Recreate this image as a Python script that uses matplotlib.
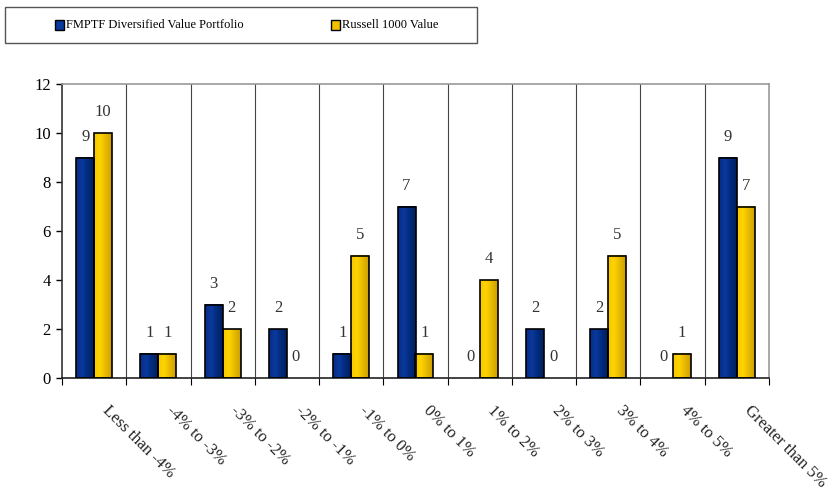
import matplotlib
matplotlib.use("Agg")
import matplotlib.pyplot as plt
import numpy as np
from matplotlib.patches import Rectangle
from matplotlib.colors import LinearSegmentedColormap

categories = ["Less than -4%", "-4% to -3%", "-3% to -2%", "-2% to -1%", "-1% to 0%",
              "0% to 1%", "1% to 2%", "2% to 3%", "3% to 4%", "4% to 5%", "Greater than 5%"]
fmptf = [9, 1, 3, 2, 1, 7, 0, 2, 2, 0, 9]
russell = [10, 1, 2, 0, 5, 1, 4, 0, 5, 1, 7]
series_names = ["FMPTF Diversified Value Portfolio", "Russell 1000 Value"]
yticks = [0, 2, 4, 6, 8, 10, 12]

plt.rcParams['font.family'] = ['Liberation Serif', 'DejaVu Serif']

fig = plt.figure(figsize=(8.34, 4.97), dpi=100)
ax = fig.add_axes([62/834, 1-378/497, (769-62)/834, (378-84)/497])

n = len(categories)
x = np.arange(n)
w = 0.28

blue_cmap = LinearSegmentedColormap.from_list("b", ["#062c86", "#0a3a9e", "#002a7c", "#00205e"])
gold_cmap = LinearSegmentedColormap.from_list("g", ["#f6c800", "#ffd400", "#e6b800", "#cc9e00"])
grad = np.linspace(0, 1, 64).reshape(1, -1)

def draw(vals, offset, cmap):
    bars = ax.bar(x + offset, vals, w, facecolor="none", edgecolor="black", linewidth=1.2, zorder=3)
    for b in bars:
        if b.get_height() > 0:
            ax.imshow(grad, cmap=cmap, aspect="auto", zorder=2,
                      extent=[b.get_x(), b.get_x() + b.get_width(), 0, b.get_height()],
                      interpolation="bicubic")
        else:
            b.set_visible(False)
    for xi, v in zip(x + offset, vals):
        ax.annotate(str(v), (xi, v), xytext=(0, 15), textcoords="offset points",
                    ha="center", va="center", fontsize=12, color="#333333")

draw(fmptf, -w/2, blue_cmap)
draw(russell, w/2, gold_cmap)

ax.set_xlim(-0.5, n - 0.5)
ax.set_ylim(0, 12)
ax.set_yticks(yticks)
ax.set_yticklabels([str(t) for t in yticks], fontsize=12)
ax.tick_params(axis="y", direction="out", length=4, width=1, pad=4)

# category boundaries
bounds = np.arange(n + 1) - 0.5
ax.set_xticks(bounds)
ax.set_xticklabels([])
ax.tick_params(axis="x", direction="out", length=5, width=0.8)
for bx in bounds[1:-1]:
    ax.axvline(bx, color="#444444", linewidth=0.8, zorder=1)

for xi, lab in zip(x, categories):
    ax.text(xi + 0.25, -1.0, lab, rotation=-45, rotation_mode="anchor",
            ha="left", va="top", fontsize=12, color="#222222")

ax.spines["left"].set_color("#333333")
ax.spines["bottom"].set_color("#222222")
ax.spines["top"].set_color("#999999")
ax.spines["right"].set_color("#999999")
for s in ax.spines.values():
    s.set_linewidth(1.2)

# legend box
fig.patches.append(Rectangle((5/834, 1-43/497), (477-5)/834, 36/497, transform=fig.transFigure,
                             facecolor="white", edgecolor="#555555", linewidth=1.0))
fig.patches.append(Rectangle((55/834, 1-30/497), 9/834, 10/497, transform=fig.transFigure,
                             facecolor="#0a3a9e", edgecolor="black", linewidth=1.0))
fig.text(66/834, 1-25/497, series_names[0], ha="left", va="center", fontsize=9)
fig.patches.append(Rectangle((331/834, 1-30/497), 9/834, 10/497, transform=fig.transFigure,
                             facecolor="#f2c200", edgecolor="black", linewidth=1.0))
fig.text(342/834, 1-25/497, series_names[1], ha="left", va="center", fontsize=9)

fig.savefig("out.png", dpi=100)
